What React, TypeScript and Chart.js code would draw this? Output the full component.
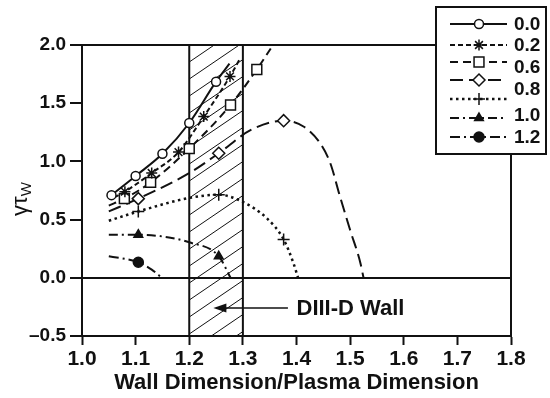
import React, { useEffect, useRef } from "react";
import { Chart, registerables } from "chart.js";
import { drawPoint } from "chart.js/helpers";

Chart.register(...registerables);

// ---- data ----
const xTicks = [1.0, 1.1, 1.2, 1.3, 1.4, 1.5, 1.6, 1.7, 1.8];
const yTicks = [-0.5, 0.0, 0.5, 1.0, 1.5, 2.0];

const s00x = [1.055, 1.1, 1.15, 1.2, 1.25, 1.275];
const s00y = [0.71, 0.875, 1.065, 1.33, 1.685, 1.84];
const s00m = [0, 1, 2, 3, 4];

const s02x = [1.06, 1.08, 1.13, 1.18, 1.227, 1.276, 1.295];
const s02y = [0.69, 0.74, 0.9, 1.08, 1.385, 1.73, 1.885];
const s02m = [1, 2, 3, 4, 5];

const s06x = [1.05, 1.079, 1.128, 1.2, 1.277, 1.326, 1.352];
const s06y = [0.62, 0.68, 0.82, 1.11, 1.485, 1.79, 1.97];
const s06m = [1, 2, 3, 4, 5];

const s08x = [1.05, 1.105, 1.2, 1.255, 1.315, 1.376, 1.413, 1.444, 1.463, 1.481, 1.5, 1.519, 1.525];
const s08y = [0.57, 0.68, 0.9, 1.07, 1.27, 1.35, 1.3, 1.157, 0.985, 0.7, 0.41, 0.13, 0.0];
const s08m = [1, 3, 5];

const s10ax = [1.05, 1.105, 1.2, 1.255, 1.298, 1.345, 1.376, 1.394, 1.403];
const s10ay = [0.49, 0.57, 0.686, 0.714, 0.656, 0.51, 0.33, 0.13, 0.0];
const s10am = [1, 3, 6];

const s10bx = [1.05, 1.105, 1.15, 1.2, 1.255, 1.277];
const s10by = [0.37, 0.37, 0.355, 0.305, 0.185, 0.0];
const s10bm = [1, 4];

const s12x = [1.05, 1.105, 1.13, 1.149];
const s12y = [0.185, 0.134, 0.07, 0.0];
const s12m = [1];

const legendLabels = ["0.0", "0.2", "0.6", "0.8", "1.0", "1.2"];

const wallRange = [1.2, 1.3];
const wallLabel = "DIII-D Wall";
const wallArrowTip = [1.245, -0.26];
const wallArrowTail = [1.384, -0.26];
const wallTextPos = [1.4, -0.26];

const xTitle = "Wall Dimension/Plasma Dimension";
const yTitleMain = "γτ";
const yTitleSub = "W";

// ---- styles ----
const INK = "#111";
const FONT = '"Liberation Sans", Arial, sans-serif';
const seriesDefs = [
  { name: "0.0", xs: s00x, ys: s00y, marks: s00m, dash: [], ps: "circle", r: 4.5, fill: "#fff", lw: 2 },
  { name: "0.2", xs: s02x, ys: s02y, marks: s02m, dash: [5, 3], ps: "star", r: 5.5, fill: INK, lw: 2 },
  { name: "0.6", xs: s06x, ys: s06y, marks: s06m, dash: [8, 5], ps: "rect", r: 7, fill: "#fff", lw: 2 },
  { name: "0.8", xs: s08x, ys: s08y, marks: s08m, dash: [13, 6], ps: "rectRot", r: 6, fill: "#fff", lw: 2 },
  { name: "1.0a", xs: s10ax, ys: s10ay, marks: s10am, dash: [2.5, 3.5], ps: "cross", r: 6, fill: INK, lw: 2.5 },
  { name: "1.0", xs: s10bx, ys: s10by, marks: s10bm, dash: [9, 4, 2, 4], ps: "triangle", r: 5, fill: INK, lw: 2 },
  { name: "1.2", xs: s12x, ys: s12y, marks: s12m, dash: [10, 4, 2, 4], ps: "circle", r: 5, fill: INK, lw: 2 },
];

const legendRowY = [24, 45, 62, 80, 99, 118, 137];
const legendLabelY = [24, 45, 67, 89, 115, 137];

const overlayPlugin = {
  id: "overlay",
  beforeDatasetsDraw(chart: any) {
    const { ctx, chartArea, scales } = chart;
    const xs = scales.x;
    const x1 = xs.getPixelForValue(wallRange[0]);
    const x2 = xs.getPixelForValue(wallRange[1]);
    const top = chartArea.top, bottom = chartArea.bottom;
    ctx.save();
    ctx.beginPath();
    ctx.rect(x1, top, x2 - x1, bottom - top);
    ctx.clip();
    ctx.strokeStyle = INK;
    ctx.lineWidth = 1;
    const slope = 0.68;
    const spacing = 17;
    const w = x2 - x1;
    for (let y0 = top; y0 < bottom + w * slope + spacing; y0 += spacing) {
      ctx.beginPath();
      ctx.moveTo(x1, y0);
      ctx.lineTo(x2, y0 - w * slope);
      ctx.stroke();
    }
    ctx.restore();
    ctx.save();
    ctx.strokeStyle = INK;
    ctx.lineWidth = 2;
    ctx.beginPath();
    ctx.moveTo(x1, top); ctx.lineTo(x1, bottom);
    ctx.moveTo(x2, top); ctx.lineTo(x2, bottom);
    ctx.stroke();
    ctx.restore();
  },
  afterDatasetsDraw(chart: any) {
    const { ctx, chartArea, scales } = chart;
    const xs = scales.x, ys = scales.y;
    ctx.save();
    ctx.strokeStyle = INK;
    ctx.lineWidth = 2;
    ctx.strokeRect(chartArea.left, chartArea.top, chartArea.right - chartArea.left, chartArea.bottom - chartArea.top);
    const tipX = xs.getPixelForValue(wallArrowTip[0]);
    const tipY = ys.getPixelForValue(wallArrowTip[1]);
    const tailX = xs.getPixelForValue(wallArrowTail[0]);
    ctx.lineWidth = 1.5;
    ctx.setLineDash([]);
    ctx.beginPath();
    ctx.moveTo(tipX + 10, tipY);
    ctx.lineTo(tailX, tipY);
    ctx.stroke();
    ctx.fillStyle = INK;
    ctx.beginPath();
    ctx.moveTo(tipX, tipY);
    ctx.lineTo(tipX + 13, tipY - 4.5);
    ctx.lineTo(tipX + 13, tipY + 4.5);
    ctx.closePath();
    ctx.fill();
    ctx.font = "bold 22px " + FONT;
    ctx.textBaseline = "middle";
    ctx.textAlign = "left";
    ctx.fillText(wallLabel, xs.getPixelForValue(wallTextPos[0]), ys.getPixelForValue(wallTextPos[1]) + 1);
    ctx.restore();
  },
  afterDraw(chart: any) {
    const { ctx } = chart;
    ctx.save();
    ctx.fillStyle = "#fff";
    ctx.fillRect(436, 7, 110, 147);
    ctx.strokeStyle = INK;
    ctx.lineWidth = 2;
    ctx.strokeRect(436, 7, 110, 147);
    seriesDefs.forEach((s, i) => {
      const y = legendRowY[i];
      ctx.save();
      ctx.strokeStyle = INK;
      ctx.lineWidth = s.lw + 0.2;
      ctx.setLineDash(s.dash);
      ctx.beginPath();
      ctx.moveTo(450, y);
      ctx.lineTo(507, y);
      ctx.stroke();
      ctx.restore();
      ctx.save();
      ctx.setLineDash([]);
      ctx.fillStyle = s.fill;
      ctx.strokeStyle = INK;
      ctx.lineWidth = 1.5;
      drawPoint(ctx, { pointStyle: s.ps, radius: s.r, rotation: 0, borderWidth: 1.5 } as any, 479, y);
      ctx.restore();
    });
    ctx.fillStyle = INK;
    ctx.font = "bold 19px " + FONT;
    ctx.textAlign = "left";
    ctx.textBaseline = "middle";
    legendLabels.forEach((t, i) => ctx.fillText(t, 514, legendLabelY[i] + 1));
    ctx.translate(27, 216);
    ctx.rotate(-Math.PI / 2);
    ctx.font = "22px " + FONT;
    ctx.textBaseline = "alphabetic";
    ctx.fillText(yTitleMain, 0, 0);
    const w = ctx.measureText(yTitleMain).width;
    ctx.font = "15px " + FONT;
    ctx.fillText(yTitleSub, w, 4);
    ctx.restore();
  },
};

export default function App() {
  const ref = useRef<HTMLCanvasElement | null>(null);
  useEffect(() => {
    if (!ref.current) return;
    const datasets = seriesDefs.map((s) => ({
      label: s.name,
      data: s.xs.map((x, i) => ({ x, y: s.ys[i] })),
      borderColor: INK,
      borderWidth: s.lw,
      borderDash: s.dash,
      backgroundColor: s.fill,
      pointStyle: s.ps,
      pointRadius: s.xs.map((_, i) => (s.marks.includes(i) ? s.r : 0)),
      pointBorderWidth: 1.5,
      pointBorderColor: INK,
      pointBackgroundColor: s.fill,
      cubicInterpolationMode: "monotone" as const,
      fill: false,
    }));
    const chart = new Chart(ref.current, {
      type: "line",
      data: { datasets },
      options: {
        animation: false,
        responsive: false,
        layout: { padding: { left: 0, right: 39, top: 45, bottom: 0 } },
        plugins: { legend: { display: false }, tooltip: { enabled: false } },
        scales: {
          x: {
            type: "linear",
            min: 1.0,
            max: 1.8,
            afterFit: (sc: any) => { sc.height = 62; },
            afterBuildTicks: (sc: any) => { sc.ticks = xTicks.map((v) => ({ value: v })); },
            grid: { display: true, drawOnChartArea: false, tickLength: 9, tickColor: INK, tickWidth: 2 },
            border: { display: true, color: INK, width: 2 },
            ticks: {
              color: INK,
              padding: 2,
              maxRotation: 0,
              font: { family: FONT, size: 21, weight: "bold" },
              callback: (v: any) => Number(v).toFixed(1),
            },
            title: {
              display: true,
              text: xTitle,
              color: INK,
              padding: { top: 0, bottom: 2 },
              font: { family: FONT, size: 22, weight: "bold" },
            },
          },
          y: {
            type: "linear",
            min: -0.5,
            max: 2.0,
            afterFit: (sc: any) => { sc.width = 82; },
            afterBuildTicks: (sc: any) => { sc.ticks = yTicks.map((v) => ({ value: v })); },
            grid: {
              display: true,
              drawOnChartArea: true,
              tickLength: 12,
              tickColor: INK,
              tickWidth: 2,
              color: (c: any) => (c.tick && c.tick.value === 0 ? INK : "rgba(0,0,0,0)"),
              lineWidth: 2,
            },
            border: { display: true, color: INK, width: 2 },
            ticks: {
              color: INK,
              padding: 4,
              font: { family: FONT, size: 19, weight: "bold" },
              callback: (v: any) => (Number(v) < 0 ? "\u2013" + Math.abs(Number(v)).toFixed(1) : Number(v).toFixed(1)),
            },
          },
        },
      },
      plugins: [overlayPlugin],
    });
    return () => chart.destroy();
  }, []);
  return (
    <div style={{ position: "absolute", left: 0, top: 0, width: 550, height: 398, background: "#fff" }}>
      <canvas ref={ref} width={550} height={398} style={{ display: "block" }} />
    </div>
  );
}
